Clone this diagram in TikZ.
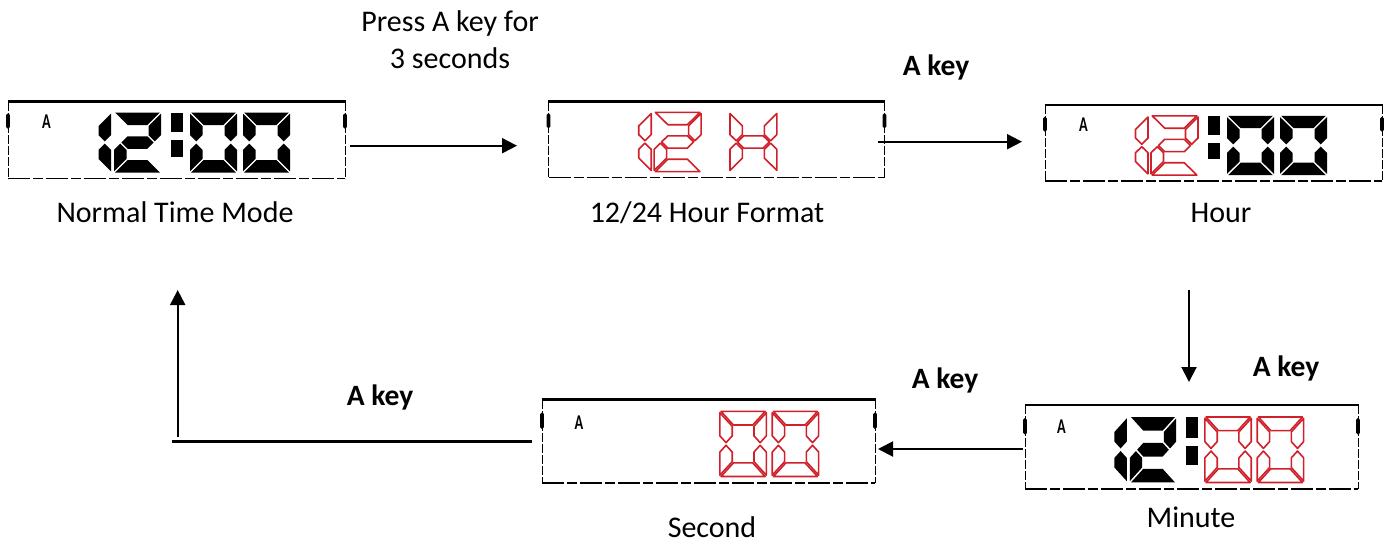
\documentclass[tikz,border=0pt]{standalone}
\usepackage{fontspec}
\setmainfont{Carlito}
\usetikzlibrary{arrows.meta}
\definecolor{lcdred}{RGB}{208,32,42}

\newcommand{\dH}{60}
\newcommand{\dT}{12.5}
\newcommand{\dg}{1.2}
\newcommand{\dM}{30}
\newcommand{\lcdsega}[1]{\path[#1] (\dg,0) -- ({\dW-\dg},0) -- ({\dW-\dT-\dg},\dT) -- ({\dT+\dg},\dT) -- cycle;}
\newcommand{\lcdsegd}[1]{\path[#1] (\dg,\dH) -- ({\dW-\dg},\dH) -- ({\dW-\dT-\dg},{\dH-\dT}) -- ({\dT+\dg},{\dH-\dT}) -- cycle;}
\newcommand{\lcdsegf}[1]{\path[#1] (0,\dg) -- (\dT,{\dT+\dg}) -- (\dT,{\dM-\dT/2-\dg}) -- ({\dT/2},{\dM-\dg}) -- (0,{\dM-\dT/2-\dg}) -- cycle;}
\newcommand{\lcdsegb}[1]{\path[#1] (\dW,\dg) -- ({\dW-\dT},{\dT+\dg}) -- ({\dW-\dT},{\dM-\dT/2-\dg}) -- ({\dW-\dT/2},{\dM-\dg}) -- (\dW,{\dM-\dT/2-\dg}) -- cycle;}
\newcommand{\lcdsege}[1]{\path[#1] (0,{\dH-\dg}) -- (\dT,{\dH-\dT-\dg}) -- (\dT,{\dM+\dT/2+\dg}) -- ({\dT/2},{\dM+\dg}) -- (0,{\dM+\dT/2+\dg}) -- cycle;}
\newcommand{\lcdsegc}[1]{\path[#1] (\dW,{\dH-\dg}) -- ({\dW-\dT},{\dH-\dT-\dg}) -- ({\dW-\dT},{\dM+\dT/2+\dg}) -- ({\dW-\dT/2},{\dM+\dg}) -- (\dW,{\dM+\dT/2+\dg}) -- cycle;}
\newcommand{\lcdsegg}[1]{\path[#1] ({\dT/2+\dg},\dM) -- ({\dT+\dg},{\dM-\dT/2}) -- ({\dW-\dT-\dg},{\dM-\dT/2}) -- ({\dW-\dT/2-\dg},\dM) -- ({\dW-\dT-\dg},{\dM+\dT/2}) -- ({\dT+\dg},{\dM+\dT/2}) -- cycle;}

% x position, width, segment list, style
\newcommand{\lcddigit}[4]{%
  \begin{scope}[shift={(#1,11)}]
    \def\dW{#2}%
    \foreach \s in {#3}{\csname lcdseg\s\endcsname{#4}}
  \end{scope}}

\newcommand{\lcdcolon}{%
  \fill (163,11) rectangle (175,30);
  \fill (163,38) rectangle (175,55);}

\newcommand{\lcdbox}{%
  \draw[line width=1pt, dash pattern=on 9pt off 2pt] (0,0) -- (0,77);
  \draw[line width=1pt, dash pattern=on 9pt off 2pt] (337,0) -- (337,77);
  \fill[rounded corners=1.5pt] (-1.8,12) rectangle (1.8,27);
  \fill[rounded corners=1.5pt] (335.2,12) rectangle (338.8,27);
  \draw[line width=1.8pt, dash pattern=on 22pt off 3pt on 10pt off 3pt] (0,77) -- (337,77);
  \draw[line width=2.6pt] (-0.5,0) -- (337.5,0);}

\tikzset{
  blackseg/.style={fill=black},
  redseg/.style={draw=lcdred, line width=1.6pt, fill=white, line join=round},
  lcdA/.style={inner sep=0pt, font=\fontsize{21}{21}\selectfont\bfseries},
  lbl/.style={inner sep=0pt, font=\fontsize{30}{37}\selectfont},
  keylbl/.style={inner sep=0pt, font=\fontsize{29.5}{31}\selectfont\bfseries},
  arr/.style={line width=2pt, -{Triangle[length=15pt,width=15pt]}},
}

\begin{document}
\begin{tikzpicture}[x=1pt,y=-1pt]
\useasboundingbox (0,0) rectangle (1384,542);

% ---------- Display 1: Normal Time Mode
\begin{scope}[shift={(8,101.5)}, xscale=1, yscale=1]
  \lcdbox
  \node[lcdA] (d1A) at (38.5,20) {\scalebox{0.68}[1]{A}};
  \lcddigit{88}{15}{b,c}{blackseg}
  \lcddigit{106}{47}{a,b,g,e,d}{blackseg}
  \lcdcolon
  \lcddigit{182}{47}{a,b,c,d,e,f}{blackseg}
  \lcddigit{235}{47}{a,b,c,d,e,f}{blackseg}
\end{scope}

% ---------- Display 2: 12/24 Hour Format
\begin{scope}[shift={(548.5,101.5)}, xscale=336/337, yscale=76/77]
  \lcdbox
  \lcddigit{88}{15}{b,c}{redseg}
  \lcddigit{106}{47}{a,b,g,e,d}{redseg}
  \lcddigit{182}{47}{b,c,e,f,g}{redseg}
\end{scope}

% ---------- Display 3: Hour
\begin{scope}[shift={(1045,105)}, xscale=1, yscale=76/77]
  \lcdbox
  \node[lcdA] (d3A) at (38.5,20) {\scalebox{0.68}[1]{A}};
  \lcddigit{88}{15}{b,c}{redseg}
  \lcddigit{106}{47}{a,b,g,e,d}{redseg}
  \lcdcolon
  \lcddigit{182}{47}{a,b,c,d,e,f}{blackseg}
  \lcddigit{235}{47}{a,b,c,d,e,f}{blackseg}
\end{scope}

% ---------- Display 4: Minute
\begin{scope}[shift={(1025,405)}, xscale=333/337, yscale=84/77]
  \lcdbox
  \node[lcdA] (d4A) at (37,20) {\scalebox{0.68}[1]{A}};
  \lcddigit{88}{15}{b,c}{blackseg}
  \lcddigit{106}{47}{a,b,g,e,d}{blackseg}
  \lcdcolon
  \lcddigit{182}{47}{a,b,c,d,e,f}{redseg}
  \lcddigit{235}{47}{a,b,c,d,e,f}{redseg}
\end{scope}

% ---------- Display 5: Second
\begin{scope}[shift={(542,399.5)}, xscale=333/337, yscale=83.5/77]
  \lcdbox
  \node[lcdA] (d5A) at (37.5,21) {\scalebox{0.68}[1]{A}};
  \lcddigit{180}{47}{a,b,c,d,e,f}{redseg}
  \lcddigit{233}{47}{a,b,c,d,e,f}{redseg}
\end{scope}

% ---------- Labels
\node[lbl, anchor=base] (lab1) at (175,222) {Normal Time Mode};
\node[lbl, anchor=base] (lab2) at (707,222) {12/24 Hour Format};
\node[lbl, anchor=base] (lab3) at (1221,222) {Hour};
\node[lbl, anchor=base] (lab4) at (1191,527) {Minute};
\node[lbl, anchor=base] (lab5) at (712,537) {Second};
\node[lbl, anchor=base] (press1) at (450,31) {Press A key for};
\node[lbl, anchor=base] (press2) at (450,68) {3 seconds};

\node[keylbl, anchor=base] (k1) at (936,75) {A key};
\node[keylbl, anchor=base] (k2) at (1286,376) {A key};
\node[keylbl, anchor=base] (k3) at (945,388) {A key};
\node[keylbl, anchor=base] (k4) at (380,405) {A key};

% ---------- Connectors
\coordinate (a1s) at (350,145.7);
\coordinate (a1e) at (517,145.7);
\coordinate (a2s) at (878,141.7);
\coordinate (a2e) at (1022,141.7);
\coordinate (a3s) at (1189,290);
\coordinate (a3e) at (1189,382);
\coordinate (a4s) at (1023,449);
\coordinate (a4e) at (878,449);
\coordinate (r1) at (532,441);
\coordinate (r2) at (172,441);
\coordinate (r3) at (177.7,437);
\coordinate (r4) at (177.7,290);

\draw[arr] (a1s) -- (a1e);
\draw[arr] (a2s) -- (a2e);
\draw[arr] (a3s) -- (a3e);
\draw[arr] (a4s) -- (a4e);
\draw[line width=3pt] (r1) -- (r2);
\draw[arr] (r3) -- (r4);
\end{tikzpicture}
\end{document}
